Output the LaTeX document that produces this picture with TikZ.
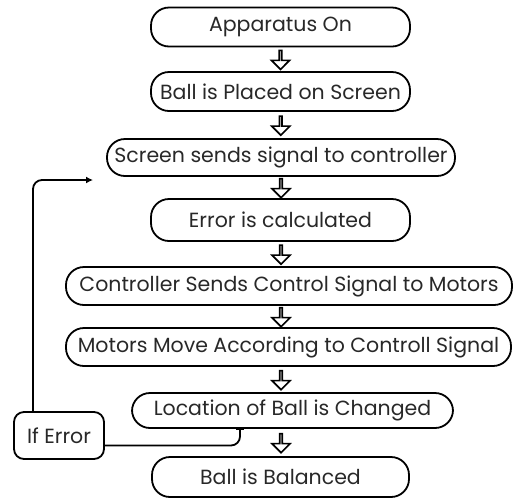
\documentclass[tikz,border=0pt]{standalone}
\usepackage{fontspec}
\setmainfont{Poppins}
\usetikzlibrary{arrows.meta,positioning,calc,shapes}
\definecolor{textgray}{RGB}{40,40,40}

\begin{document}
\begin{tikzpicture}[x=1pt,y=1pt,
    stepbox/.style={draw,line width=1.8pt,rounded corners=18pt,inner sep=0pt,
      text=textgray,font=\fontsize{20.5}{24}\selectfont,minimum height=39pt},
    flow/.style={single arrow,draw,line width=1.6pt,shape border rotate=270,
      minimum height=19pt,minimum width=18pt,single arrow head extend=5pt,inner sep=0pt},
    back/.style={line width=1.8pt,rounded corners=9pt}]
  \useasboundingbox (0,0) rectangle (513,-499);

  % steps of the loop
  \node[stepbox,minimum width=259pt] (on) at (280.5,-27) {Apparatus On};
  \node[stepbox,minimum width=259pt] (placed) at (280.5,-91.5) {Ball is Placed on Screen};
  \node[stepbox,minimum width=348pt,minimum height=37pt] (signal) at (281,-157.5) {Screen sends signal to controller};
  \node[stepbox,minimum width=259pt,minimum height=42pt] (error) at (280.5,-220) {Error is calculated};
  \node[stepbox,minimum width=446pt,minimum height=38pt] (control) at (289,-286) {Controller Sends Control Signal to Motors};
  \node[stepbox,minimum width=445pt,minimum height=38pt] (motors) at (288.5,-347) {Motors Move According to Controll Signal};
  \node[stepbox,minimum width=321pt,minimum height=35pt] (moved) at (292.5,-410.5) {Location of Ball is Changed};
  \node[stepbox,minimum width=257pt,minimum height=40pt] (balanced) at (280.5,-477) {Ball is Balanced};
  \node[stepbox,rounded corners=10pt,minimum width=90pt,minimum height=47pt] (iferr) at (59,-435.5) {If Error};

  % hollow arrows between the steps
  \node[flow] (f1) at ($(on.south)!0.5!(placed.north)$) {};
  \node[flow] (f2) at ($(placed.south)!0.5!(signal.north)$) {};
  \node[flow] (f3) at (281,-187.5) {};
  \node[flow] (f4) at (281,-254) {};
  \node[flow] (f5) at (281,-316.5) {};
  \node[flow] (f6) at (281,-379.5) {};
  \node[flow] (f7) at (281,-442.5) {};

  % feedback
  \coordinate (ret) at (93,-180);
  \draw[back,{Bar[width=8pt,line width=1.8pt]}-] (240,-428) |- ([yshift=-10pt]iferr.east);
  \draw[back,-{Latex[length=7pt,width=7pt]}] ([xshift=-26pt]iferr.north) |- (ret);
\end{tikzpicture}
\end{document}
